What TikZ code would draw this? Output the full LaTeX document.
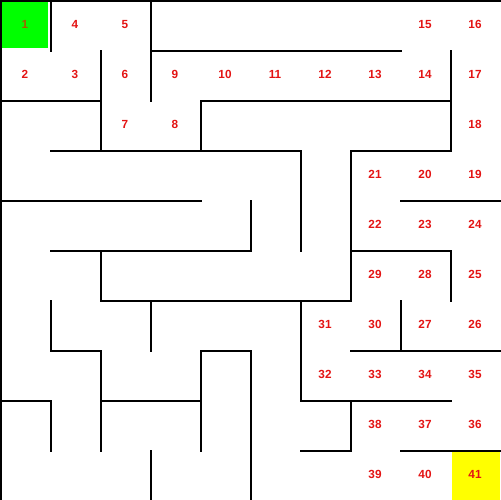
\documentclass[tikz,border=0pt]{standalone}
\usepackage{fontspec}
\setmainfont{Liberation Sans}
\definecolor{numred}{RGB}{228,20,20}
\definecolor{startnum}{RGB}{165,95,0}
\definecolor{startgreen}{RGB}{0,255,0}
\definecolor{goalyellow}{RGB}{255,255,0}
\tikzset{
  wall/.style={line width=0.04cm, black, line cap=rect},
  num/.style={font=\fontsize{6.7pt}{7pt}\selectfont\bfseries, text=numred, inner sep=0pt, text height=4.8pt, text depth=0pt},
  startnumstyle/.style={num, text=startnum}
}
\begin{document}
\begin{tikzpicture}[x=0.02cm,y=-0.02cm]
\useasboundingbox (0,0) rectangle (500,500);
\fill[white] (0,0) rectangle (500,500);
\fill[startgreen] (2,2) rectangle (48,48);
\fill[goalyellow] (452,452) rectangle (500,500);
% cell labels
\def\cellnode#1#2#3{\node[num] (c#3) at ({#1*50+25},{#2*50+24.5}) {#3};}
\node[startnumstyle] (c1) at (25,24.5) {1};
\cellnode{1}{0}{4}
\cellnode{2}{0}{5}
\cellnode{8}{0}{15}
\cellnode{9}{0}{16}
\cellnode{0}{1}{2}
\cellnode{1}{1}{3}
\cellnode{2}{1}{6}
\cellnode{3}{1}{9}
\cellnode{4}{1}{10}
\cellnode{5}{1}{11}
\cellnode{6}{1}{12}
\cellnode{7}{1}{13}
\cellnode{8}{1}{14}
\cellnode{9}{1}{17}
\cellnode{2}{2}{7}
\cellnode{3}{2}{8}
\cellnode{9}{2}{18}
\cellnode{7}{3}{21}
\cellnode{8}{3}{20}
\cellnode{9}{3}{19}
\cellnode{7}{4}{22}
\cellnode{8}{4}{23}
\cellnode{9}{4}{24}
\cellnode{7}{5}{29}
\cellnode{8}{5}{28}
\cellnode{9}{5}{25}
\cellnode{6}{6}{31}
\cellnode{7}{6}{30}
\cellnode{8}{6}{27}
\cellnode{9}{6}{26}
\cellnode{6}{7}{32}
\cellnode{7}{7}{33}
\cellnode{8}{7}{34}
\cellnode{9}{7}{35}
\cellnode{7}{8}{38}
\cellnode{8}{8}{37}
\cellnode{9}{8}{36}
\cellnode{7}{9}{39}
\cellnode{8}{9}{40}
\cellnode{9}{9}{41}
% walls
\begin{scope}[shift={(1,1)}]
% horizontal
\draw[wall] (0,0) -- (499,0);
\draw[wall] (150,50) -- (400,50);
\draw[wall] (0,100) -- (100,100);
\draw[wall] (200,100) -- (450,100);
\draw[wall] (50,150) -- (300,150);
\draw[wall] (350,150) -- (450,150);
\draw[wall] (0,200) -- (200,200);
\draw[wall] (400,200) -- (499,200);
\draw[wall] (50,250) -- (250,250);
\draw[wall] (350,250) -- (450,250);
\draw[wall] (100,300) -- (350,300);
\draw[wall] (50,350) -- (100,350);
\draw[wall] (200,350) -- (250,350);
\draw[wall] (350,350) -- (499,350);
\draw[wall] (0,400) -- (50,400);
\draw[wall] (100,400) -- (200,400);
\draw[wall] (300,400) -- (450,400);
\draw[wall] (300,450) -- (350,450);
\draw[wall] (400,450) -- (499,450);
% vertical
\draw[wall] (0,0) -- (0,499);
\draw[wall] (50,0) -- (50,50);
\draw[wall] (50,300) -- (50,350);
\draw[wall] (50,400) -- (50,450);
\draw[wall] (100,50) -- (100,150);
\draw[wall] (100,250) -- (100,300);
\draw[wall] (100,350) -- (100,450);
\draw[wall] (150,0) -- (150,100);
\draw[wall] (150,300) -- (150,350);
\draw[wall] (150,450) -- (150,499);
\draw[wall] (200,100) -- (200,150);
\draw[wall] (200,350) -- (200,450);
\draw[wall] (250,200) -- (250,250);
\draw[wall] (250,350) -- (250,499);
\draw[wall] (300,150) -- (300,250);
\draw[wall] (300,300) -- (300,400);
\draw[wall] (350,150) -- (350,300);
\draw[wall] (350,400) -- (350,450);
\draw[wall] (400,300) -- (400,350);
\draw[wall] (450,50) -- (450,150);
\draw[wall] (450,250) -- (450,300);
\end{scope}
\end{tikzpicture}
\end{document}
